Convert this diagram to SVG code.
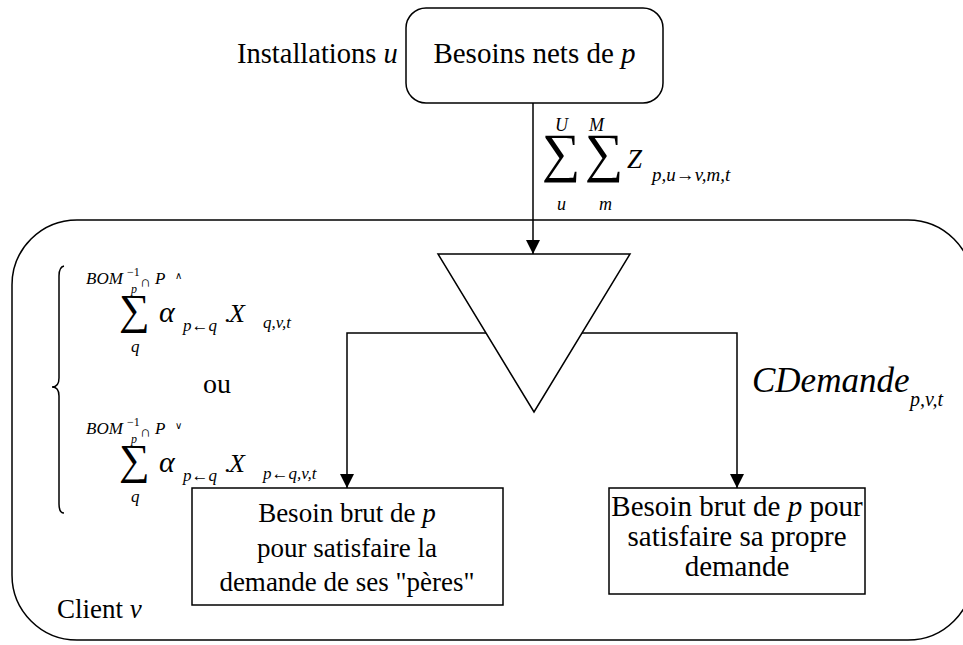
<svg xmlns="http://www.w3.org/2000/svg" width="963" height="645" viewBox="0 0 963 645">
<defs>
<marker id="ah" viewBox="0 0 14 14" refX="14" refY="7" markerWidth="14" markerHeight="14" markerUnits="userSpaceOnUse" orient="auto">
<path d="M0,0 L14,7 L0,14 Z" fill="#000"/>
</marker>
<style>
.ln{fill:none;stroke:#000;stroke-width:1.5}
.bx{fill:#fff;stroke:#000;stroke-width:1.5}
text{font-family:"Liberation Serif","Times New Roman",serif;fill:#000}
.i{font-style:italic}
</style>
</defs>
<rect width="963" height="645" fill="#fff"/>
<g id="client">
<rect class="ln" x="12" y="220" width="961" height="420" rx="65" ry="65"/>
<text x="57" y="618" font-size="27">Client <tspan class="i">v</tspan></text>
</g>
<g id="besoins-nets">
<rect class="bx" x="406" y="8" width="257" height="95" rx="20" ry="20"/>
<text x="534.5" y="63" font-size="29" text-anchor="middle">Besoins nets de <tspan class="i">p</tspan></text>
<text x="237" y="63" font-size="28.5">Installations <tspan class="i">u</tspan></text>
</g>
<g id="triangle">
<polygon class="bx" points="438,254 630,254 534,412"/>
</g>
<g id="besoin-peres">
<rect class="bx" x="192" y="488" width="311" height="117"/>
<text font-size="27" text-anchor="middle"><tspan x="347" y="522">Besoin brut de <tspan class="i">p</tspan></tspan><tspan x="347" y="557">pour satisfaire la</tspan><tspan x="347" y="591">demande de ses "pères"</tspan></text>
</g>
<g id="besoin-propre">
<rect class="bx" x="609" y="488" width="256" height="106"/>
<text font-size="29" text-anchor="middle"><tspan x="737" y="516">Besoin brut de <tspan class="i">p</tspan> pour</tspan><tspan x="737" y="546">satisfaire sa propre</tspan><tspan x="737" y="576">demande</tspan></text>
</g>
<g id="connectors">
<line class="ln" x1="533" y1="103" x2="533" y2="254" marker-end="url(#ah)"/>
<polyline class="ln" points="486,333 347,333 347,488" marker-end="url(#ah)"/>
<polyline class="ln" points="582,333 737,333 737,488" marker-end="url(#ah)"/>
</g>
<g id="label-z">
<text x="542" y="171" font-size="54">∑</text>
<text x="585" y="171" font-size="54">∑</text>
<text class="i" x="555" y="131" font-size="18">U</text>
<text class="i" x="589" y="131" font-size="18">M</text>
<text class="i" x="557" y="210" font-size="18">u</text>
<text class="i" x="599" y="210" font-size="18">m</text>
<text class="i" x="627" y="168" font-size="27">Z</text>
<text class="i" x="652" y="181" font-size="19">p,u→v,m,t</text>
</g>
<g id="label-cdemande">
<text class="i" x="752" y="392" font-size="35">CDemande</text>
<text class="i" x="910" y="406" font-size="20">p,v,t</text>
</g>
<g id="label-formulas">
<path class="ln" d="M64,266 Q59,267 59,276 L59,378 Q59,387 52,387 Q59,387 59,396 L59,504 Q59,513 64,513"/>
<text class="i" x="86" y="284" font-size="17">BOM</text>
<text x="127" y="276" font-size="12">−1</text>
<text class="i" x="131" y="293" font-size="12">p</text>
<text x="140" y="287" font-size="15">∩</text>
<text class="i" x="155" y="284" font-size="17">P</text>
<text x="175" y="279" font-size="10">∧</text>
<text x="119" y="324" font-size="43">∑</text>
<text class="i" x="131" y="352" font-size="17">q</text>
<text class="i" x="159" y="322" font-size="30">α</text>
<text class="i" x="183" y="331" font-size="17">p←q</text>
<text x="224" y="322" font-size="26">.</text>
<text class="i" x="229" y="322" font-size="26">X</text>
<text class="i" x="263" y="328" font-size="17">q,v,t</text>
<text x="203" y="393" font-size="28">ou</text>
<text class="i" x="86" y="434" font-size="17">BOM</text>
<text x="127" y="426" font-size="12">−1</text>
<text class="i" x="131" y="443" font-size="12">p</text>
<text x="140" y="437" font-size="15">∩</text>
<text class="i" x="155" y="434" font-size="17">P</text>
<text x="175" y="429" font-size="10">∨</text>
<text x="119" y="474" font-size="43">∑</text>
<text class="i" x="131" y="502" font-size="17">q</text>
<text class="i" x="159" y="472" font-size="30">α</text>
<text class="i" x="183" y="481" font-size="17">p←q</text>
<text x="224" y="472" font-size="26">.</text>
<text class="i" x="229" y="472" font-size="26">X</text>
<text class="i" x="263" y="479" font-size="17">p←q,v,t</text>
</g>
</svg>
